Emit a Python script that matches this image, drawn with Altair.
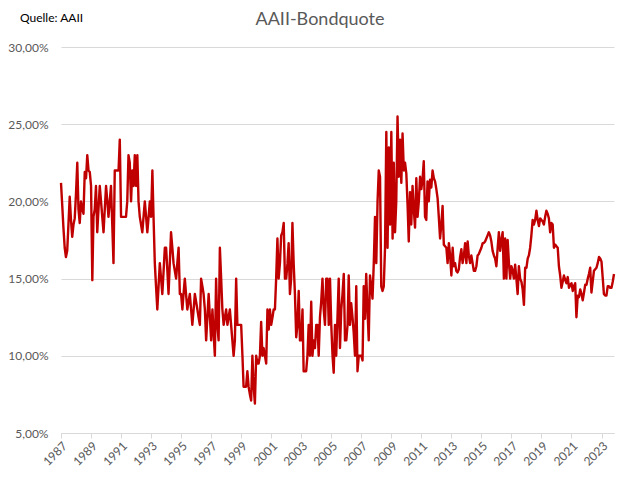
import altair as alt
import pandas as pd

# monthly AAII bond allocation (%), Jan of each year onward
y1987 = [21.2, 19.7, 18.3, 17.0, 16.4, 16.8, 18.5, 20.3, 18.8, 17.7, 18.5, 18.9]
y1988 = [20.5, 22.5, 19.5, 18.6, 20.0, 19.5, 19.2, 21.9, 21.5, 23.0, 22.0, 21.9]
y1989 = [21.0, 14.9, 19.0, 19.5, 21.0, 18.0, 19.5, 21.0, 20.0, 19.0, 18.0, 19.5]
y1990 = [21.0, 20.0, 19.0, 20.0, 21.0, 18.5, 16.0, 22.0, 22.0, 22.0, 22.0, 24.0]
y1991 = [19.0, 19.0, 19.0, 19.0, 19.0, 20.0, 23.0, 22.5, 20.0, 22.0, 21.0, 23.0]
y1992 = [21.0, 23.0, 20.0, 19.0, 18.5, 18.0, 19.0, 20.0, 19.0, 18.0, 19.0, 20.0]
y1993 = [19.0, 22.0, 19.0, 16.0, 14.5, 13.0, 14.5, 16.0, 15.0, 14.0, 15.5, 17.0]
y1994 = [17.0, 15.5, 14.0, 16.0, 18.0, 17.0, 16.0, 15.5, 15.0, 16.0, 17.0, 14.0]
y1995 = [14.0, 13.0, 14.0, 15.0, 14.0, 13.0, 13.5, 14.0, 13.0, 12.0, 13.0, 14.0]
y1996 = [13.5, 13.0, 12.5, 12.0, 15.0, 14.5, 14.0, 13.0, 11.0, 12.5, 14.0, 12.5]
y1997 = [11.0, 13.0, 11.5, 10.0, 15.0, 12.0, 11.0, 17.0, 15.0, 13.0, 12.0, 12.5]
y1998 = [13.0, 12.0, 12.5, 13.0, 12.0, 11.0, 10.0, 11.0, 15.0, 12.0, 12.0, 12.0]
y1999 = [12.0, 10.0, 8.0, 8.0, 8.0, 9.0, 8.0, 7.5, 7.1, 10.0, 8.0, 6.9]
y2000 = [10.0, 9.5, 9.5, 10.0, 12.2, 10.0, 10.5, 10.0, 9.5, 13.0, 11.7, 13.0]
y2001 = [12.0, 12.5, 13.0, 13.0, 15.0, 17.6, 15.0, 16.0, 17.8, 18.0, 18.6, 15.0]
y2002 = [15.0, 16.0, 17.3, 14.0, 15.0, 18.6, 16.0, 14.0, 11.2, 12.0, 14.2, 11.0]
y2003 = [11.0, 13.0, 9.0, 9.0, 9.0, 10.0, 12.0, 10.0, 13.5, 10.0, 11.0, 10.5]
y2004 = [12.0, 12.0, 10.0, 12.5, 13.5, 15.0, 13.0, 12.0, 15.0, 15.0, 12.0, 15.0]
y2005 = [12.0, 10.0, 8.9, 12.0, 10.0, 12.5, 15.0, 10.5, 13.0, 14.0, 15.3, 11.0]
y2006 = [11.0, 12.0, 15.2, 12.0, 13.4, 12.5, 11.5, 10.0, 14.5, 9.0, 10.0, 10.0]
y2007 = [10.0, 9.7, 14.5, 12.4, 15.3, 13.0, 11.0, 15.2, 14.5, 13.7, 16.0, 19.0]
y2008 = [16.0, 20.0, 22.0, 21.6, 14.5, 14.2, 14.5, 17.0, 24.5, 17.0, 23.5, 18.5]
y2009 = [24.5, 17.6, 22.5, 18.0, 20.0, 25.5, 21.6, 24.0, 21.2, 24.4, 22.0, 22.5]
y2010 = [21.8, 19.7, 17.4, 20.6, 18.5, 21.0, 19.5, 18.3, 21.5, 19.0, 20.0, 21.6]
y2011 = [20.8, 21.5, 22.6, 19.0, 18.8, 21.3, 20.0, 21.4, 20.9, 22.0, 21.5, 21.3]
y2012 = [20.8, 20.2, 19.0, 17.6, 18.5, 19.7, 17.2, 17.1, 17.0, 16.0, 17.3, 16.5]
y2013 = [15.2, 17.0, 15.8, 16.0, 15.5, 15.4, 15.6, 16.4, 16.9, 16.0, 16.5, 17.3]
y2014 = [16.0, 17.4, 16.5, 16.0, 16.5, 16.0, 15.5, 15.5, 15.8, 16.5, 16.6, 16.8]
y2015 = [17.0, 17.3, 17.3, 17.4, 17.6, 17.8, 18.0, 17.8, 17.4, 16.8, 16.5, 16.3]
y2016 = [15.8, 17.0, 18.0, 16.8, 17.5, 18.0, 15.0, 17.6, 15.0, 17.5, 16.0, 15.0]
y2017 = [15.8, 15.5, 15.0, 15.9, 15.0, 14.0, 15.8, 15.0, 14.8, 14.3, 13.3, 15.7]
y2018 = [15.7, 16.3, 16.5, 17.0, 17.8, 18.8, 18.5, 18.8, 19.4, 18.8, 18.4, 18.9]
y2019 = [18.8, 18.7, 18.5, 19.0, 19.4, 19.2, 18.9, 18.0, 18.6, 18.5, 17.0, 17.2]
y2020 = [17.1, 17.0, 15.8, 15.2, 14.4, 14.8, 15.2, 14.9, 14.7, 15.1, 14.4, 14.6]
y2021 = [14.7, 14.2, 14.5, 14.7, 12.5, 13.9, 13.8, 14.3, 14.0, 13.6, 14.1, 14.6]
y2022 = [14.6, 15.0, 15.3, 15.7, 14.1, 14.8, 15.5, 15.6, 15.7, 16.0, 16.4, 16.3]
y2023 = [16.1, 15.0, 14.0, 13.9, 13.9, 14.5, 14.5, 14.4, 14.4, 14.8, 15.3]

years = list(range(1987, 2024))
series = [y1987, y1988, y1989, y1990, y1991, y1992, y1993, y1994, y1995, y1996,
          y1997, y1998, y1999, y2000, y2001, y2002, y2003, y2004, y2005, y2006,
          y2007, y2008, y2009, y2010, y2011, y2012, y2013, y2014, y2015, y2016,
          y2017, y2018, y2019, y2020, y2021, y2022, y2023]

tick_years = list(range(1987, 2024, 2))
y_ticks = [5, 10, 15, 20, 25, 30]

rows = []
for yr, vals in zip(years, series):
    for m, v in enumerate(vals):
        rows.append({"date": f"{yr}-{m + 1:02d}-01", "value": v})
df = pd.DataFrame(rows)

FONT = "Lato"
GREY = "#595959"

line = alt.Chart(df).mark_line(
    color="#C00000", strokeWidth=2.4, strokeJoin="round"
).encode(
    x=alt.X(
        "date:T",
        scale=alt.Scale(domain=["1987-01-01", "2023-11-01"]),
        axis=alt.Axis(
            values=[alt.DateTime(year=y, month=1, date=1) for y in tick_years],
            format="%Y", labelAngle=-45, title=None, grid=False,
            domainColor="#d9d9d9", tickColor="#d9d9d9", tickSize=5,
            labelColor=GREY, labelFontSize=12, labelFont=FONT, labelPadding=2,
        ),
    ),
    y=alt.Y(
        "value:Q",
        scale=alt.Scale(domain=[5, 30]),
        axis=alt.Axis(
            values=y_ticks, title=None, domain=False, ticks=False,
            gridColor="#d9d9d9", gridWidth=1,
            labelExpr="replace(format(datum.value, '.2f'), '.', ',') + '%'",
            labelColor=GREY, labelFontSize=12, labelFont=FONT, labelPadding=13,
        ),
    ),
)

source = alt.Chart(pd.DataFrame({"t": ["Quelle: AAII"]})).mark_text(
    align="left", baseline="middle", fontSize=12, font=FONT, color="#000000"
).encode(
    x=alt.value(-41), y=alt.value(-29), text="t:N"
)

title = alt.Chart(pd.DataFrame({"t": ["AAII-Bondquote"]})).mark_text(
    align="center", baseline="middle", fontSize=18, font=FONT, color=GREY
).encode(
    x=alt.value(259), y=alt.value(-27), text="t:N"
)

chart = alt.layer(line, source, title).properties(
    width=553, height=386,
    autosize=alt.AutoSizeParams(type="none"),
    padding={"left": 53, "top": 39, "right": 16, "bottom": 39},
).configure_view(stroke=None)

chart.save("out.html", embed_options={"renderer": "svg", "actions": False})
